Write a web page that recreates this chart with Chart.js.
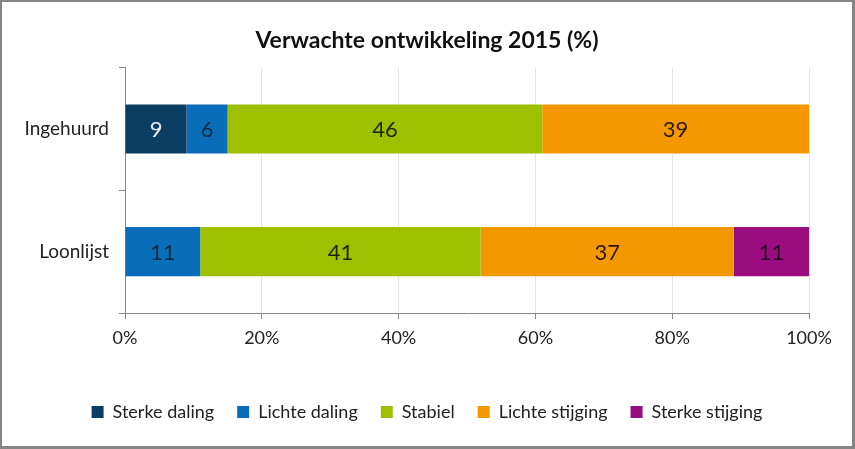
<!DOCTYPE html>
<html>
<head>
<meta charset="utf-8">
<script src="https://cdn.jsdelivr.net/npm/chart.js@4/dist/chart.umd.min.js"></script>
<style>
  html, body { margin: 0; padding: 0; background: #fff; }
  #frame {
    position: absolute; left: 0; top: 0;
    width: 850px; height: 444px;
    border-style: solid; border-color: #858585;
    border-width: 2px 3px 3px 2px;
    background: #fff;
  }
  canvas { display: block; }
</style>
</head>
<body>
<div id="frame"><canvas id="chart" width="850" height="444"></canvas></div>
<script>
const CATEGORIES = ['Ingehuurd', 'Loonlijst'];
const SERIES_NAMES = ['Sterke daling', 'Lichte daling', 'Stabiel', 'Lichte stijging', 'Sterke stijging'];
const STERKE_DALING = [9, 0];
const LICHTE_DALING = [6, 11];
const STABIEL = [46, 41];
const LICHTE_STIJGING = [39, 37];
const STERKE_STIJGING = [0, 11];
const X_TICKS = [0, 20, 40, 60, 80, 100];

const COLORS = ['#0c3e63', '#0a6dba', '#9fc000', '#f39800', '#990d7f'];
const LABEL_COLORS = ['#e8eef4', '#0b2a45', '#1b2400', '#2a1a00', '#2a0624'];
const FONT = 'Lato, "Open Sans", sans-serif';

const values = [STERKE_DALING, LICHTE_DALING, STABIEL, LICHTE_STIJGING, STERKE_STIJGING];

// simple value labels in the middle of each segment
const barLabels = {
  id: 'barLabels',
  afterDatasetsDraw(chart) {
    const ctx = chart.ctx;
    ctx.save();
    ctx.font = '22px ' + FONT;
    ctx.textAlign = 'center';
    ctx.textBaseline = 'middle';
    chart.data.datasets.forEach((ds, i) => {
      chart.getDatasetMeta(i).data.forEach((bar, j) => {
        const v = ds.data[j];
        if (!v) return;
        const p = bar.getCenterPoint();
        ctx.fillStyle = LABEL_COLORS[i];
        ctx.fillText(String(v), p.x, p.y + 1);
      });
    });
    ctx.restore();
  }
};

new Chart(document.getElementById('chart'), {
  type: 'bar',
  data: {
    labels: CATEGORIES,
    datasets: SERIES_NAMES.map((name, i) => ({
      label: name,
      data: values[i],
      backgroundColor: COLORS[i],
      borderWidth: 0,
      barPercentage: 0.4,
      categoryPercentage: 1,
    })),
  },
  options: {
    responsive: false,
    animation: false,
    indexAxis: 'y',
    layout: { padding: { left: 0, right: 0, top: 0, bottom: 15 } },
    plugins: {
      title: {
        display: true,
        text: 'Verwachte ontwikkeling 2015 (%)',
        color: '#111',
        font: { family: FONT, size: 23, weight: 'bold' },
        padding: { top: 25, bottom: 13 },
      },
      legend: {
        position: 'bottom',
        labels: {
          color: '#222',
          font: { family: FONT, size: 18 },
          boxWidth: 12,
          boxHeight: 12,
          padding: 23,
        },
      },
      tooltip: { enabled: false },
    },
    scales: {
      x: {
        stacked: true,
        min: 0,
        max: 100,
        afterBuildTicks(scale) {
          scale.ticks = X_TICKS.map(v => ({ value: v }));
        },
        afterFit(scale) { scale.height = 67; },
        ticks: {
          callback: v => v + '%',
          color: '#222',
          font: { family: FONT, size: 18 },
          padding: 8,
        },
        grid: { color: '#e4e4e4', tickColor: '#888', tickLength: 6 },
        border: { color: '#888' },
      },
      y: {
        stacked: true,
        afterFit(scale) { scale.width = 123; },
        ticks: {
          color: '#222',
          font: { family: FONT, size: 19 },
          padding: 10,
        },
        grid: { drawOnChartArea: false, tickColor: '#888', tickLength: 6 },
        border: { color: '#888' },
      },
      // empty right-hand axis, only reserves room on the right of the plot
      spacer: {
        axis: 'y',
        position: 'right',
        display: true,
        afterFit(scale) { scale.width = 43; },
        ticks: { display: false },
        grid: { display: false },
        border: { display: false },
      },
    },
  },
  plugins: [barLabels],
});
</script>
</body>
</html>
